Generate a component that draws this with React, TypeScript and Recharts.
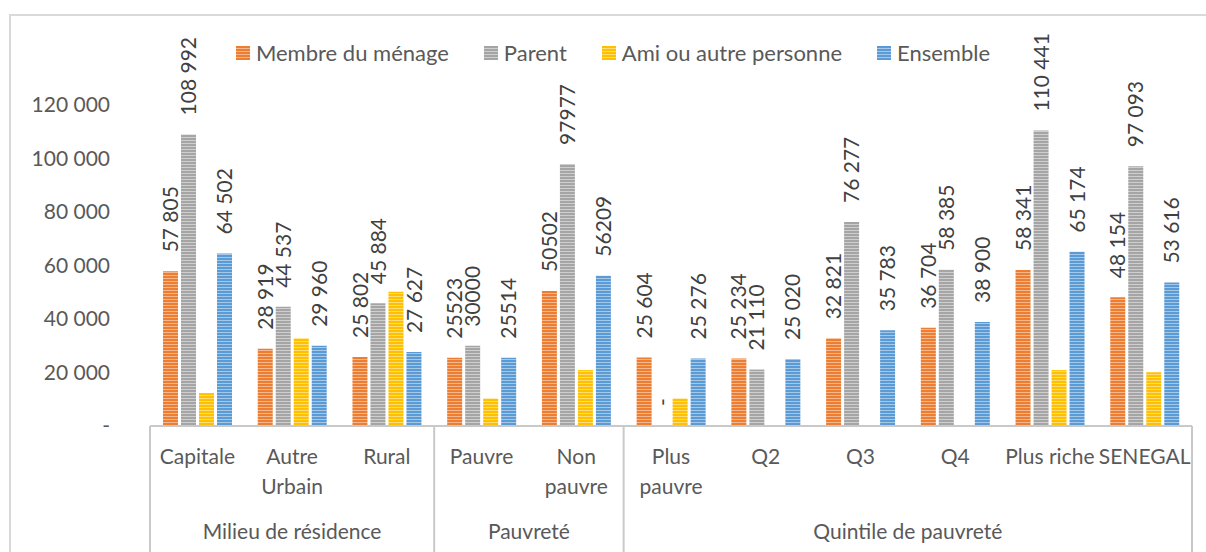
import { BarChart, Bar, XAxis, YAxis, LabelList } from 'recharts';

const categories = ['Capitale', 'Autre Urbain', 'Rural', 'Pauvre', 'Non pauvre', 'Plus pauvre', 'Q2', 'Q3', 'Q4', 'Plus riche', 'SENEGAL'];
const tickLines = [['Capitale'], ['Autre', 'Urbain'], ['Rural'], ['Pauvre'], ['Non', 'pauvre'], ['Plus', 'pauvre'], ['Q2'], ['Q3'], ['Q4'], ['Plus riche'], ['SENEGAL']];
const membre = [57805, 28919, 25802, 25523, 50502, 25604, 25234, 32821, 36704, 58341, 48154];
const parent = [108992, 44537, 45884, 30000, 97977, 0, 21110, 76277, 58385, 110441, 97093];
const ami = [12300, 32800, 50200, 10300, 20900, 10300, 0, 0, 0, 20900, 20100];
const ensemble = [64502, 29960, 27627, 25514, 56209, 25276, 25020, 35783, 38900, 65174, 53616];
// the "Pauvreté" labels were typed without thousand separators
const plainLabelCats = ['Pauvre', 'Non pauvre'];
const groups = [
  { label: 'Milieu de résidence', size: 3 },
  { label: 'Pauvreté', size: 2 },
  { label: 'Quintile de pauvreté', size: 6 },
];
const yTicks = [0, 20000, 40000, 60000, 80000, 100000, 120000];

const series = [
  { key: 'membre', name: 'Membre du ménage', color: '#ED7D31', labels: true },
  { key: 'parent', name: 'Parent', color: '#A5A5A5', labels: true },
  { key: 'ami', name: 'Ami ou autre personne', color: '#FFC000', labels: false },
  { key: 'ensemble', name: 'Ensemble', color: '#5B9BD5', labels: true },
];

const FONT = 'Lato, "Open Sans", sans-serif';
const AXIS_H = 126;
const LINE = '#C9C9C9';

const spaced = (n: number) => (n === 0 ? '-' : String(n).replace(/\B(?=(\d{3})+(?!\d))/g, ' '));
const fmt = (n: number, cat: string) => (n === 0 ? '-' : plainLabelCats.includes(cat) ? String(n) : spaced(n));

const data = categories.map((name, i) => ({
  name,
  membre: membre[i],
  parent: parent[i],
  ami: ami[i],
  ensemble: ensemble[i],
  membreLbl: fmt(membre[i], name),
  parentLbl: fmt(parent[i], name),
  ensembleLbl: fmt(ensemble[i], name),
}));

// index of the first category of each group
const groupStarts: number[] = [];
groups.reduce((start, g) => {
  groupStarts.push(start);
  return start + g.size;
}, 0);

const RotLabel = (props: any) => {
  const vb = props.viewBox || {};
  const x = Number(props.x ?? vb.x);
  const y = Number(props.y ?? vb.y);
  const w = Number(props.width ?? vb.width);
  const cx = x + w / 2;
  const ty = y - 19;
  return (
    <text
      x={cx}
      y={ty}
      dy="0.36em"
      transform={`rotate(-90 ${cx} ${ty})`}
      textAnchor="start"
      fill="#404040"
      fontSize={21}
      fontFamily={FONT}
    >
      {props.value}
    </text>
  );
};

// category label + the second level (group) of the axis
const CatTick = (props: any) => {
  const { x, y, index, payload } = props;
  const half = Number(payload.offset) || 0;
  const lines = tickLines[index] || [payload.value];
  const gi = groupStarts.indexOf(index);
  const isLast = index === categories.length - 1;
  return (
    <g>
      <text x={x} y={y} textAnchor="middle" fill="#595959" fontSize={21} fontFamily={FONT}>
        {lines.map((l: string, i: number) => (
          <tspan key={i} x={x} dy={i === 0 ? 38 : 30}>
            {l}
          </tspan>
        ))}
      </text>
      {gi >= 0 && (
        <>
          <line x1={x - half} x2={x - half} y1={y} y2={y + AXIS_H} stroke={LINE} strokeWidth={2} />
          <text
            x={x - half + groups[gi].size * half}
            y={y + 113}
            textAnchor="middle"
            fill="#595959"
            fontSize={21}
            fontFamily={FONT}
          >
            {groups[gi].label}
          </text>
        </>
      )}
      {isLast && <line x1={x + half} x2={x + half} y1={y} y2={y + AXIS_H} stroke={LINE} strokeWidth={2} />}
    </g>
  );
};

const Hatch = ({ id, color }: { id: string; color: string }) => (
  <pattern id={id} patternUnits="userSpaceOnUse" width={4} height={3}>
    <rect width={4} height={3} fill={color} />
    <rect y={2} width={4} height={1} fill="#ffffff" fillOpacity={0.45} />
  </pattern>
);

// zero values of labelled series keep a 1px stub so that their "-" label is still drawn
const zeroStub = (value: any) => (Number(value) === 0 ? 1 : 0);

export default function App() {
  return (
    <div style={{ position: 'absolute', left: 0, top: 0, width: 1206, height: 552, background: '#fff', fontFamily: FONT }}>
      <div
        style={{
          position: 'absolute',
          left: 9,
          top: 14,
          right: 0,
          bottom: 0,
          borderLeft: '2px solid #D9D9D9',
          borderTop: '2px solid #D9D9D9',
        }}
      />
      <div
        style={{
          position: 'absolute',
          top: 40,
          left: 10,
          width: 1206,
          display: 'flex',
          justifyContent: 'center',
          gap: 35,
          fontSize: 22,
          color: '#595959',
          lineHeight: '26px',
        }}
      >
        {series.map((s) => (
          <div key={s.key} style={{ display: 'flex', alignItems: 'center', gap: 6 }}>
            <svg width={14} height={14}>
              <rect width={14} height={14} fill={`url(#hatch-${s.key})`} />
            </svg>
            <span>{s.name}</span>
          </div>
        ))}
      </div>
      <BarChart
        width={1206}
        height={552}
        data={data}
        margin={{ top: 105, right: 14, bottom: 0, left: 10 }}
        barSize={15}
        barGap={3}
        style={{ position: 'absolute', left: 0, top: 0 }}
      >
        <defs>
          {series.map((s) => (
            <Hatch key={s.key} id={`hatch-${s.key}`} color={s.color} />
          ))}
        </defs>
        <XAxis
          dataKey="name"
          interval={0}
          height={AXIS_H}
          tickLine={false}
          tickSize={0}
          tickMargin={0}
          axisLine={{ stroke: LINE, strokeWidth: 2 }}
          tick={<CatTick />}
        />
        <YAxis
          width={140}
          domain={[0, 120000]}
          ticks={yTicks}
          interval={0}
          axisLine={false}
          tickLine={false}
          tickSize={0}
          tickMargin={40}
          tickFormatter={spaced}
          tick={{ fill: '#595959', fontSize: 21, fontFamily: FONT }}
        />
        {series.map((s) => (
          <Bar
            key={s.key}
            dataKey={s.key}
            name={s.name}
            fill={`url(#hatch-${s.key})`}
            minPointSize={s.labels ? zeroStub : 0}
            isAnimationActive={false}
          >
            {s.labels && <LabelList dataKey={`${s.key}Lbl`} content={<RotLabel />} />}
          </Bar>
        ))}
      </BarChart>
    </div>
  );
}
